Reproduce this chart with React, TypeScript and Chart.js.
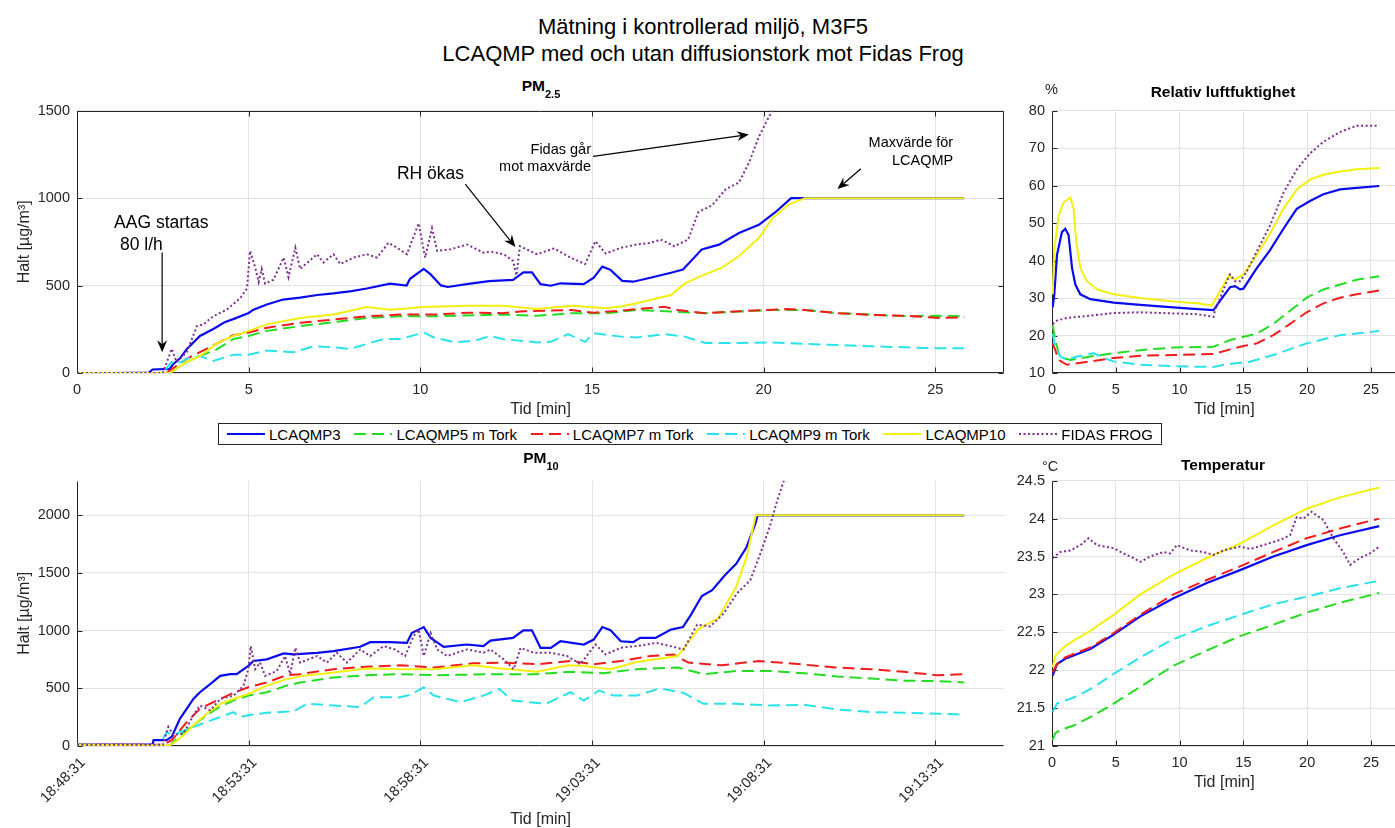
import React, { useEffect, useRef } from 'react';
import { Chart, registerables } from 'chart.js';

Chart.register(...registerables);

const FONT = '"Liberation Sans", Arial, Helvetica, sans-serif';
const INK = '#262626';
const GRID = '#e2e2e2';

// ---------------- names / ticks ----------------
const seriesNames = ['LCAQMP3', 'LCAQMP5 m Tork', 'LCAQMP7 m Tork', 'LCAQMP9 m Tork', 'LCAQMP10', 'FIDAS FROG'];
const minuteTicks = [0, 5, 10, 15, 20, 25];
const timeTickLabels = ['18:48:31', '18:53:31', '18:58:31', '19:03:31', '19:08:31', '19:13:31'];
const pm25YTicks = [0, 500, 1000, 1500];
const pm10YTicks = [0, 500, 1000, 1500, 2000];
const rhYTicks = [10, 20, 30, 40, 50, 60, 70, 80];
const tempYTicks = [21, 21.5, 22, 22.5, 23, 23.5, 24, 24.5];

// ---------------- PM2.5 (µg/m³) ----------------
const pm25T_L3 = [0, 1, 2.1, 2.2, 2.7, 2.8, 3.0, 3.2, 3.58, 3.97, 4.3, 4.55, 5.0, 5.14, 5.53, 6.0, 6.5, 7.0, 7.47, 8.0, 8.44, 9.12, 9.6, 9.7, 10.1, 10.3, 10.6, 10.8, 11.4, 12.0, 12.7, 13.0, 13.25, 13.5, 13.8, 14.08, 14.76, 15.05, 15.3, 15.54, 15.88, 16.2, 16.7, 17.3, 17.65, 18.2, 18.7, 19.28, 19.86, 20.35, 20.8, 21.2, 25.84];
const pm25Y_L3 = [0, 0, 2, 20, 24, 50, 84, 138, 212, 252, 290, 308, 343, 362, 392, 420, 431, 446, 455, 468, 483, 511, 500, 539, 595, 564, 501, 492, 510, 525, 533, 576, 576, 508, 499, 513, 508, 545, 608, 590, 527, 522, 545, 573, 592, 707, 734, 800, 847, 921, 1000, 1000, 1000];
const pm25T_L5 = [0, 2.7, 3.2, 3.58, 4.06, 4.55, 5.0, 5.53, 6.5, 7.47, 8.44, 9.4, 10.4, 12.4, 13.4, 14.4, 15.4, 16.3, 17.3, 18.3, 19.28, 20.25, 21.2, 22.2, 23.2, 24.2, 25.1, 25.84];
const pm25Y_L5 = [0, 0, 63, 97, 134, 194, 212, 241, 268, 291, 315, 324, 324, 334, 327, 342, 342, 360, 351, 342, 351, 360, 360, 342, 333, 324, 327, 324];
const pm25T_L7 = [0, 2.6, 3.2, 3.58, 4.06, 4.55, 5.0, 5.53, 6.5, 7.47, 8.44, 9.4, 10.4, 11.4, 12.4, 13.0, 14.4, 15.05, 15.84, 16.3, 17.1, 17.5, 18.3, 19.28, 20.7, 21.2, 22.2, 23.2, 24.2, 25.1, 25.84];
const pm25Y_L7 = [0, 0, 82, 119, 166, 216, 231, 259, 287, 306, 324, 334, 334, 345, 342, 353, 360, 345, 356, 366, 379, 360, 342, 353, 366, 360, 342, 332, 327, 314, 319];
const pm25T_L9 = [0, 2.5, 2.75, 2.9, 3.2, 3.58, 3.97, 4.55, 5.0, 5.53, 6.3, 6.9, 7.47, 7.96, 8.44, 8.93, 9.4, 10.1, 10.4, 11.0, 11.6, 12.04, 12.4, 13.4, 13.8, 14.3, 14.8, 15.05, 15.84, 16.3, 17.1, 17.7, 18.3, 19.28, 20.2, 21.2, 22.2, 23.1, 24.1, 25.05, 25.84];
const pm25Y_L9 = [0, 0, 63, 50, 82, 97, 69, 104, 104, 128, 119, 153, 147, 138, 166, 194, 194, 231, 203, 175, 185, 212, 194, 175, 178, 222, 178, 227, 208, 203, 222, 208, 172, 172, 175, 166, 160, 153, 147, 141, 141];
const pm25T_L10 = [0, 2.7, 3.2, 3.58, 4.06, 4.55, 5.0, 5.53, 6.5, 7.47, 8.44, 9.12, 10.1, 11.4, 12.4, 13.4, 14.4, 15.4, 15.84, 16.3, 17.3, 17.7, 18.1, 18.8, 19.28, 19.86, 20.25, 20.73, 21.2, 25.84];
const pm25Y_L10 = [0, 0, 63, 97, 166, 212, 241, 278, 315, 334, 377, 362, 377, 384, 384, 366, 384, 371, 380, 399, 446, 511, 548, 604, 669, 772, 884, 963, 1000, 1000];
const pm25T_FID = [0, 2.5, 2.76, 2.9, 3.2, 3.49, 3.68, 3.97, 4.36, 4.75, 4.95, 5.04, 5.19, 5.29, 5.38, 5.48, 5.72, 6.02, 6.16, 6.36, 6.5, 6.99, 7.18, 7.47, 7.67, 8.06, 8.44, 8.74, 9.07, 9.32, 9.61, 9.95, 10.14, 10.34, 10.49, 10.87, 11.36, 11.84, 12.04, 12.43, 12.7, 12.8, 12.9, 13.4, 13.9, 14.37, 14.8, 15.1, 15.4, 15.84, 16.3, 16.7, 17.0, 17.4, 17.8, 18.1, 18.5, 18.9, 19.28, 19.57, 19.86, 20.1, 20.25, 20.5];
const pm25Y_FID = [0, 0, 138, 63, 119, 268, 278, 325, 362, 427, 483, 698, 604, 520, 595, 511, 533, 660, 548, 716, 595, 679, 632, 679, 623, 660, 679, 660, 744, 716, 679, 856, 660, 828, 698, 707, 735, 688, 694, 679, 641, 558, 725, 679, 713, 660, 623, 754, 683, 716, 735, 744, 763, 725, 763, 921, 959, 1052, 1089, 1202, 1351, 1445, 1500, 1650];

// ---------------- PM10 (µg/m³) ----------------
const pm10T_L3 = [0, 2.2, 2.23, 2.61, 2.76, 3.0, 3.2, 3.39, 3.58, 3.88, 4.17, 4.46, 4.65, 4.99, 5.14, 5.53, 6.02, 6.31, 6.99, 7.47, 8.25, 8.54, 9.12, 9.61, 9.75, 10.1, 10.3, 10.68, 11.36, 11.84, 12.04, 12.7, 13.0, 13.25, 13.5, 13.8, 14.08, 14.76, 15.05, 15.3, 15.54, 15.84, 16.2, 16.4, 16.85, 17.3, 17.65, 17.88, 18.2, 18.5, 18.87, 19.2, 19.5, 19.77, 19.82, 25.84];
const pm10Y_L3 = [12, 12, 51, 51, 80, 237, 323, 408, 466, 537, 608, 623, 623, 694, 737, 751, 803, 794, 808, 823, 860, 900, 900, 894, 980, 1031, 937, 860, 880, 866, 914, 937, 1003, 1003, 851, 851, 908, 880, 923, 1031, 1003, 908, 900, 937, 937, 1009, 1031, 1137, 1300, 1351, 1480, 1580, 1723, 1937, 2000, 2000];
const pm10T_L5 = [0, 2.7, 3.0, 3.58, 4.06, 4.55, 4.99, 5.53, 6.1, 6.5, 7.47, 8.44, 9.4, 10.4, 12.33, 13.4, 14.37, 15.34, 16.3, 17.5, 18.25, 19.22, 20.2, 21.17, 22.14, 23.1, 24.08, 25.05, 25.84];
const pm10Y_L5 = [10, 5, 94, 223, 323, 394, 437, 466, 523, 551, 594, 614, 623, 614, 623, 623, 643, 631, 666, 680, 623, 651, 651, 631, 603, 586, 566, 563, 551];
const pm10T_L7 = [0, 2.5, 2.76, 3.2, 3.58, 3.97, 4.55, 4.99, 5.53, 6.1, 6.5, 7.47, 8.44, 9.4, 10.4, 11.55, 12.43, 13.4, 14.37, 15.05, 15.84, 16.7, 17.38, 17.8, 18.77, 19.86, 20.73, 22.14, 23.1, 24.08, 25.05, 25.84];
const pm10Y_L7 = [10, 10, 51, 209, 323, 380, 460, 509, 551, 614, 623, 666, 688, 700, 680, 717, 723, 709, 737, 709, 737, 780, 794, 723, 700, 737, 717, 680, 666, 643, 614, 623];
const pm10T_L9 = [0, 2.4, 2.61, 2.8, 3.0, 3.39, 3.78, 4.17, 4.56, 4.75, 4.99, 5.53, 6.31, 6.7, 7.47, 8.25, 8.64, 9.41, 9.71, 10.1, 10.39, 11.17, 11.84, 12.3, 12.69, 13.66, 14.37, 14.76, 15.2, 15.63, 16.3, 16.98, 17.67, 18.25, 19.22, 20.2, 21.17, 22.14, 23.1, 24.08, 25.05, 25.84];
const pm10Y_L9 = [5, 5, 123, 90, 123, 166, 209, 251, 294, 251, 266, 289, 300, 366, 351, 337, 423, 423, 443, 509, 437, 380, 437, 494, 394, 366, 466, 394, 480, 437, 437, 500, 460, 366, 366, 351, 357, 317, 294, 289, 280, 271];
const pm10T_L10 = [0, 2.7, 3.0, 3.39, 3.78, 4.17, 4.55, 4.99, 5.53, 6.1, 6.6, 7.47, 8.44, 9.4, 10.4, 11.55, 12.33, 13.4, 14.3, 14.76, 15.54, 16.3, 17.5, 18.1, 18.68, 19.2, 19.5, 19.77, 25.84];
const pm10Y_L10 = [10, 5, 66, 180, 280, 366, 408, 451, 523, 580, 608, 637, 671, 666, 666, 700, 671, 643, 700, 694, 666, 728, 780, 1014, 1109, 1380, 1637, 2000, 2000];
const pm10T_FID = [0, 2.5, 2.66, 2.81, 3.1, 3.39, 3.58, 3.88, 4.17, 4.56, 4.85, 4.99, 5.06, 5.19, 5.33, 5.48, 5.82, 6.06, 6.21, 6.36, 6.5, 6.99, 7.28, 7.57, 7.86, 8.25, 8.54, 8.93, 9.27, 9.56, 9.8, 9.95, 10.1, 10.3, 10.49, 10.78, 11.36, 11.84, 12.04, 12.43, 12.72, 12.92, 13.3, 13.79, 14.28, 14.66, 15.1, 15.39, 15.84, 16.3, 16.88, 17.28, 17.67, 18.06, 18.45, 18.84, 19.22, 19.61, 19.9, 20.2, 20.39, 20.58, 20.75];
const pm10Y_FID = [10, 10, 166, 94, 109, 266, 351, 309, 408, 437, 523, 666, 866, 666, 723, 608, 651, 780, 623, 851, 723, 780, 723, 808, 723, 837, 780, 866, 837, 780, 951, 1009, 780, 980, 837, 780, 837, 808, 837, 751, 666, 851, 808, 808, 780, 709, 880, 794, 851, 866, 894, 866, 837, 1051, 1037, 1151, 1323, 1437, 1666, 1923, 2123, 2294, 2450];

// ---------------- Relativ luftfuktighet (%) ----------------
const rhT_L3 = [0.05, 0.18, 0.39, 0.78, 1.04, 1.3, 1.57, 1.83, 2.22, 3.0, 4.83, 6.92, 9.52, 10.83, 12.66, 13.18, 13.96, 14.35, 14.74, 15.0, 16.05, 17.09, 18.14, 19.18, 20.22, 21.27, 22.57, 23.88, 25.65];
const rhY_L3 = [27.5, 31, 41.5, 47.6, 48.5, 46.8, 38, 33.6, 31, 29.7, 28.8, 28.2, 27.5, 27.2, 26.8, 29.3, 32.9, 33.2, 32.3, 32.5, 38, 42.8, 48.5, 53.8, 55.9, 57.7, 59, 59.4, 59.9];
const rhT_L5 = [0.05, 0.26, 0.52, 0.91, 1.44, 3.0, 4.83, 6.92, 9.52, 12.66, 13.96, 16.05, 17.35, 18.66, 19.96, 21.27, 22.57, 23.88, 25.65];
const rhY_L5 = [22.7, 18.8, 15.3, 14, 13.5, 14.4, 15.3, 16.1, 16.8, 17, 18.8, 20.5, 23.1, 26.6, 30.1, 32.3, 33.6, 34.9, 35.8];
const rhT_L7 = [0.05, 0.26, 0.52, 1.17, 3.0, 4.83, 6.92, 9.52, 12.66, 13.96, 15.0, 16.05, 17.35, 18.66, 19.96, 21.27, 22.57, 23.88, 25.65];
const rhY_L7 = [17.9, 16.1, 13.5, 12.2, 13.1, 14, 14.6, 14.8, 15.1, 16.3, 17.2, 17.9, 20.1, 23.1, 26.2, 28.6, 30.1, 31, 32];
const rhT_L9 = [0.05, 0.26, 0.65, 1.17, 1.96, 3.26, 4.04, 4.83, 6.92, 9.52, 12.66, 13.96, 15.27, 17.35, 19.96, 22.57, 25.65];
const rhY_L9 = [20.5, 17, 14.4, 13.5, 14.4, 15.3, 14, 13.1, 12.2, 11.8, 11.6, 12.5, 12.8, 14.8, 17.9, 20.1, 21.2];
const rhT_L10 = [0.05, 0.18, 0.52, 0.91, 1.44, 1.7, 1.9, 2.22, 2.74, 3.52, 4.83, 6.92, 9.52, 11.35, 12.53, 13.18, 13.83, 14.35, 15.0, 16.05, 17.09, 18.14, 19.18, 20.22, 21.27, 22.57, 23.88, 25.65];
const rhY_L10 = [31, 43, 52, 55.5, 56.8, 53.8, 45, 38, 34.5, 32.3, 31, 30, 29.1, 28.6, 28, 31.9, 35.8, 35, 36.3, 41.5, 47.2, 53.8, 59, 61.6, 62.9, 63.8, 64.4, 64.7];
const rhT_FID = [0.05, 0.39, 1.17, 3.0, 4.83, 6.92, 9.52, 11.35, 12.66, 12.79, 13.18, 13.7, 13.96, 14.35, 14.74, 15.27, 16.05, 17.09, 18.14, 19.18, 20.22, 21.27, 22.57, 23.88, 25.65];
const rhY_FID = [23.1, 24, 24.7, 25.3, 26, 26.2, 25.9, 25.7, 25, 27, 30, 34.5, 36.3, 34.5, 34.5, 37.1, 42.4, 49.4, 58.1, 64.3, 68.6, 71.7, 74.3, 76, 76];

// ---------------- Temperatur (°C) ----------------
const tT_L3 = [0.05, 0.39, 1.04, 3.0, 4.83, 6.92, 9.52, 12.13, 14.74, 17.35, 19.96, 22.57, 25.65];
const tY_L3 = [21.93, 22.08, 22.15, 22.28, 22.47, 22.71, 22.95, 23.15, 23.32, 23.5, 23.65, 23.78, 23.9];
const tT_L5 = [0.05, 0.26, 0.65, 1.7, 3.0, 4.83, 6.92, 9.52, 12.13, 14.74, 17.35, 19.96, 22.57, 25.65];
const tY_L5 = [21.08, 21.17, 21.21, 21.27, 21.38, 21.56, 21.78, 22.06, 22.26, 22.45, 22.6, 22.76, 22.89, 23.02];
const tT_L7 = [0.05, 0.39, 1.04, 3.0, 4.83, 6.92, 9.52, 12.13, 14.74, 17.35, 19.96, 22.57, 25.65];
const tY_L7 = [21.97, 22.08, 22.17, 22.3, 22.49, 22.73, 23.0, 23.19, 23.37, 23.56, 23.74, 23.87, 24.0];
const tT_L9 = [0.05, 0.39, 1.7, 3.0, 4.83, 6.92, 9.52, 12.13, 14.74, 17.35, 19.96, 22.57, 25.65];
const tY_L9 = [21.45, 21.56, 21.64, 21.75, 21.95, 22.17, 22.41, 22.58, 22.73, 22.87, 22.97, 23.08, 23.18];
const tT_L10 = [0.05, 0.26, 0.91, 1.7, 3.0, 4.83, 6.92, 9.52, 12.13, 14.74, 17.35, 19.96, 22.57, 25.65];
const tY_L10 = [22.04, 22.19, 22.3, 22.39, 22.52, 22.73, 23.0, 23.26, 23.48, 23.67, 23.91, 24.13, 24.28, 24.41];
const tT_FID = [0.05, 0.65, 1.44, 2.22, 2.87, 3.52, 4.83, 5.61, 6.39, 6.92, 7.7, 8.74, 9.26, 9.79, 10.83, 11.87, 12.66, 13.44, 14.74, 15.53, 16.57, 17.88, 18.66, 19.18, 19.7, 20.35, 21.27, 22.05, 22.83, 23.36, 24.14, 24.92, 25.65];
const tY_FID = [23.48, 23.56, 23.58, 23.65, 23.74, 23.65, 23.61, 23.54, 23.48, 23.43, 23.5, 23.56, 23.54, 23.65, 23.58, 23.56, 23.52, 23.58, 23.63, 23.6, 23.65, 23.72, 23.78, 24.02, 24.0, 24.09, 23.98, 23.74, 23.56, 23.39, 23.48, 23.54, 23.63];

// ---------------- annotations of the PM2.5 panel (data units) ----------------
const pm25Notes = [
  { text: 'AAG startas', x: 1.08, y: 832, align: 'left', size: 17.5 },
  { text: '80 l/h', x: 1.25, y: 701, align: 'left', size: 17.5 },
  { text: 'RH ökas', x: 9.32, y: 1108, align: 'left', size: 17.5 },
  { text: 'Fidas går', x: 14.97, y: 1254, align: 'right', size: 14.5 },
  { text: 'mot maxvärde', x: 14.97, y: 1155, align: 'right', size: 14.5 },
  { text: 'Maxvärde för', x: 25.52, y: 1295, align: 'right', size: 14.5 },
  { text: 'LCAQMP', x: 25.52, y: 1192, align: 'right', size: 14.5 },
];
const pm25Arrows = [
  { x0: 2.48, y0: 689, x1: 2.48, y1: 119 },
  { x0: 11.31, y0: 1080, x1: 12.77, y1: 720 },
  { x0: 15.03, y0: 1239, x1: 19.57, y1: 1364 },
  { x0: 22.83, y0: 1168, x1: 22.15, y1: 1052 },
];

// ---------------- styles ----------------
const seriesColors = ['#0a0af0', '#22dd22', '#f21c1c', '#2ae3ea', '#f3ef10', '#7e2f8e'];
const seriesDashes = [[], [12, 6], [12, 6], [12, 6], [], [2, 2.5]];
const seriesWidths = [2.2, 2, 2, 2, 2, 2];

// ---------------- plugins ----------------
const matlabAxes = {
  id: 'matlabAxes',
  beforeDatasetsDraw(chart: any, _args: any, opts: any) {
    const { ctx, chartArea: a, scales } = chart;
    const xs = scales.x, ys = scales.y;
    const L = Math.round(a.left) + 0.5, R = Math.round(a.right) - 0.5;
    const T = Math.round(a.top) + 0.5, B = Math.round(a.bottom) - 0.5;
    ctx.save();
    ctx.strokeStyle = INK;
    ctx.lineWidth = 1;
    ctx.beginPath();
    ctx.moveTo(L, T); ctx.lineTo(L, B); ctx.lineTo(R, B);
    if (opts.box) { ctx.lineTo(R, T); ctx.lineTo(L, T); }
    ctx.stroke();
    const tl = 5;
    ctx.beginPath();
    xs.ticks.forEach((tk: any) => {
      const px = Math.round(xs.getPixelForValue(tk.value)) + 0.5;
      ctx.moveTo(px, B); ctx.lineTo(px, B - tl);
      if (opts.box) { ctx.moveTo(px, T); ctx.lineTo(px, T + tl); }
    });
    ys.ticks.forEach((tk: any) => {
      const py = Math.round(ys.getPixelForValue(tk.value)) + 0.5;
      ctx.moveTo(L, py); ctx.lineTo(L + tl, py);
      if (opts.box) { ctx.moveTo(R, py); ctx.lineTo(R - tl, py); }
    });
    ctx.stroke();
    ctx.restore();
  },
};

function drawArrow(ctx: any, x0: number, y0: number, x1: number, y1: number) {
  const ang = Math.atan2(y1 - y0, x1 - x0);
  const c = Math.cos(ang), s = Math.sin(ang);
  const hl = 12, hw = 5, notch = 4;
  ctx.beginPath();
  ctx.moveTo(x0, y0);
  ctx.lineTo(x1 - (hl - notch) * c, y1 - (hl - notch) * s);
  ctx.stroke();
  const bx = x1 - hl * c, by = y1 - hl * s;
  ctx.beginPath();
  ctx.moveTo(x1, y1);
  ctx.lineTo(bx - s * hw, by + c * hw);
  ctx.lineTo(x1 - (hl - notch) * c, y1 - (hl - notch) * s);
  ctx.lineTo(bx + s * hw, by - c * hw);
  ctx.closePath();
  ctx.fill();
}

const notesPlugin = {
  id: 'notes',
  afterDatasetsDraw(chart: any, _args: any, opts: any) {
    const notes = opts.notes || [];
    const arrows = opts.arrows || [];
    if (!notes.length && !arrows.length) return;
    const { ctx, scales } = chart;
    const xs = scales.x, ys = scales.y;
    ctx.save();
    ctx.fillStyle = '#000';
    ctx.strokeStyle = '#000';
    ctx.lineWidth = 1.2;
    notes.forEach((n: any) => {
      ctx.font = `${n.size}px ${FONT}`;
      ctx.textAlign = n.align;
      ctx.textBaseline = 'alphabetic';
      ctx.fillText(n.text, xs.getPixelForValue(n.x), ys.getPixelForValue(n.y));
    });
    arrows.forEach((a: any) =>
      drawArrow(ctx, xs.getPixelForValue(a.x0), ys.getPixelForValue(a.y0), xs.getPixelForValue(a.x1), ys.getPixelForValue(a.y1))
    );
    ctx.restore();
  },
};

// ---------------- chart config ----------------
function makeDatasets(ts: number[][], ys: number[][]) {
  return ts.map((t, i) => ({
    label: seriesNames[i],
    data: t.map((v, k) => ({ x: v, y: ys[i][k] })),
    borderColor: seriesColors[i],
    borderWidth: seriesWidths[i],
    borderDash: seriesDashes[i],
    borderCapStyle: 'butt',
    pointRadius: 0,
    fill: false,
    tension: 0,
    order: 5 - i,
  }));
}

function panelHeight(p: any) {
  return Math.ceil(p.xTitleY + 9.6 - p.canvas.top);
}

function makeConfig(p: any) {
  const cv = p.canvas, a = p.area;
  const ch = panelHeight(p);
  const tickFont = { family: FONT, size: 14.5 };
  const titleFont = { family: FONT, size: 16 };
  return {
    type: 'line',
    data: { datasets: makeDatasets(p.ts, p.ys) },
    options: {
      animation: false,
      responsive: false,
      maintainAspectRatio: false,
      events: [],
      layout: { padding: { top: a.T - cv.top, right: cv.left + cv.width - a.R, left: 0, bottom: 0 } },
      plugins: {
        legend: { display: false },
        tooltip: { enabled: false },
        title: { display: false },
        matlabAxes: { box: p.box },
        notes: { notes: p.notes || [], arrows: p.arrows || [] },
      },
      scales: {
        x: {
          type: 'linear',
          min: 0,
          max: p.xMax,
          afterBuildTicks: (s: any) => { s.ticks = p.xTicks.map((v: number) => ({ value: v })); },
          afterFit: (s: any) => { s.height = cv.top + ch - a.B; },
          grid: { color: GRID, drawTicks: false, lineWidth: 1 },
          border: { display: false },
          ticks: {
            autoSkip: false,
            font: tickFont,
            color: INK,
            padding: 8.3,
            minRotation: p.rotate ? 45 : 0,
            maxRotation: p.rotate ? 45 : 0,
            labelOffset: p.rotate ? 6 : 0,
            callback: (v: number) => (p.xLabels ? p.xLabels[p.xTicks.indexOf(v)] : String(v)),
          },
          title: {
            display: true,
            text: 'Tid [min]',
            font: titleFont,
            color: INK,
            padding: { top: 0, bottom: cv.top + ch - 9.6 - p.xTitleY },
          },
        },
        y: {
          type: 'linear',
          min: p.yMin,
          max: p.yMax,
          afterBuildTicks: (s: any) => { s.ticks = p.yTicks.map((v: number) => ({ value: v })); },
          afterFit: (s: any) => { s.width = a.L - cv.left; },
          grid: { color: GRID, drawTicks: false, lineWidth: 1 },
          border: { display: false },
          ticks: { autoSkip: false, font: tickFont, color: INK, padding: 7, callback: (v: number) => String(v) },
          title: p.yTitle
            ? { display: true, text: p.yTitle, font: titleFont, color: INK, padding: { top: p.yTitleX - cv.left - 9.6, bottom: 0 } }
            : { display: false },
        },
      },
    },
    plugins: [matlabAxes, notesPlugin],
  };
}

const panels = [
  {
    key: 'pm25',
    ts: [pm25T_L3, pm25T_L5, pm25T_L7, pm25T_L9, pm25T_L10, pm25T_FID],
    ys: [pm25Y_L3, pm25Y_L5, pm25Y_L7, pm25Y_L9, pm25Y_L10, pm25Y_FID],
    xTicks: minuteTicks, xMax: 27,
    yTicks: pm25YTicks, yMin: 0, yMax: 1500,
    yTitle: 'Halt [µg/m³]', yTitleX: 25,
    box: true,
    canvas: { left: 0, top: 95, width: 1010 },
    area: { L: 77, T: 105, R: 1004, B: 373 },
    xTitleY: 410,
    notes: pm25Notes, arrows: pm25Arrows,
  },
  {
    key: 'rh',
    ts: [rhT_L3, rhT_L5, rhT_L7, rhT_L9, rhT_L10, rhT_FID],
    ys: [rhY_L3, rhY_L5, rhY_L7, rhY_L9, rhY_L10, rhY_FID],
    xTicks: minuteTicks, xMax: 27,
    yTicks: rhYTicks, yMin: 10, yMax: 80,
    box: false,
    canvas: { left: 1008, top: 95, width: 392 },
    area: { L: 1052, T: 107, R: 1396.5, B: 373 },
    xTitleY: 410,
  },
  {
    key: 'pm10',
    ts: [pm10T_L3, pm10T_L5, pm10T_L7, pm10T_L9, pm10T_L10, pm10T_FID],
    ys: [pm10Y_L3, pm10Y_L5, pm10Y_L7, pm10Y_L9, pm10Y_L10, pm10Y_FID],
    xTicks: minuteTicks, xMax: 27, xLabels: timeTickLabels, rotate: true,
    yTicks: pm10YTicks, yMin: 0, yMax: 2300,
    yTitle: 'Halt [µg/m³]', yTitleX: 25,
    box: false,
    canvas: { left: 0, top: 465, width: 1010 },
    area: { L: 77, T: 478, R: 1004, B: 746 },
    xTitleY: 820,
  },
  {
    key: 'temp',
    ts: [tT_L3, tT_L5, tT_L7, tT_L9, tT_L10, tT_FID],
    ys: [tY_L3, tY_L5, tY_L7, tY_L9, tY_L10, tY_FID],
    xTicks: minuteTicks, xMax: 27,
    yTicks: tempYTicks, yMin: 21, yMax: 24.5,
    box: false,
    canvas: { left: 1008, top: 465, width: 392 },
    area: { L: 1052, T: 478, R: 1396.5, B: 746 },
    xTitleY: 783,
  },
];

function ChartPanel({ p }: any) {
  const ref = useRef<HTMLCanvasElement | null>(null);
  const h = panelHeight(p);
  useEffect(() => {
    const chart = new Chart(ref.current as any, makeConfig(p) as any);
    return () => chart.destroy();
  }, []);
  return (
    <canvas
      ref={ref}
      width={p.canvas.width}
      height={h}
      style={{ position: 'absolute', left: p.canvas.left, top: p.canvas.top, width: p.canvas.width, height: h, display: 'block' }}
    />
  );
}

function Txt({ x, base, size, align = 'left', bold = false, color = '#000', children }: any) {
  const style: any = {
    position: 'absolute',
    top: base - 0.8465 * size,
    fontSize: size,
    lineHeight: `${size}px`,
    fontWeight: bold ? 'bold' : 'normal',
    color,
    whiteSpace: 'nowrap',
    fontFamily: FONT,
  };
  if (align === 'left') style.left = x;
  else if (align === 'center') { style.left = x - 400; style.width = 800; style.textAlign = 'center'; }
  else { style.left = x - 800; style.width = 800; style.textAlign = 'right'; }
  return <div style={style}>{children}</div>;
}

function LegendBox() {
  return (
    <div
      style={{
        position: 'absolute', left: 218, top: 423, width: 944, height: 22, boxSizing: 'border-box',
        border: `1px solid ${INK}`, background: '#fff', display: 'flex', alignItems: 'center',
        justifyContent: 'space-between', padding: '0 8px 0 8px', fontFamily: FONT, fontSize: 15,
        color: '#000', whiteSpace: 'nowrap',
      }}
    >
      {seriesNames.map((n, i) => (
        <div key={n} style={{ display: 'flex', alignItems: 'center' }}>
          <svg width={38} height={6} style={{ display: 'block' }}>
            <line
              x1={0} y1={3} x2={38} y2={3}
              stroke={seriesColors[i]}
              strokeWidth={2}
              strokeDasharray={seriesDashes[i].length ? seriesDashes[i].join(' ') : undefined}
            />
          </svg>
          <span style={{ marginLeft: 4 }}>{n}</span>
        </div>
      ))}
    </div>
  );
}

export default function App() {
  return (
    <div style={{ position: 'absolute', left: 0, top: 0, width: 1395, height: 828, overflow: 'hidden', background: '#fff' }}>
      {panels.map((p) => <ChartPanel key={p.key} p={p} />)}
      <Txt x={703} base={35} size={22} align="center">Mätning i kontrollerad miljö, M3F5</Txt>
      <Txt x={703} base={61.5} size={22} align="center">LCAQMP med och utan diffusionstork mot Fidas Frog</Txt>
      <Txt x={541} base={91} size={15.5} align="center" bold>
        PM<span style={{ fontSize: 11, position: 'relative', top: 7.5 }}>2.5</span>
      </Txt>
      <Txt x={1223} base={97} size={15.5} align="center" bold>Relativ luftfuktighet</Txt>
      <Txt x={1045} base={94} size={14.5} color={INK}>%</Txt>
      <Txt x={541} base={463} size={15.5} align="center" bold>
        PM<span style={{ fontSize: 11, position: 'relative', top: 7.5 }}>10</span>
      </Txt>
      <Txt x={1223} base={470} size={15.5} align="center" bold>Temperatur</Txt>
      <Txt x={1042} base={471} size={14.5} color={INK}>°C</Txt>
      <LegendBox />
    </div>
  );
}
